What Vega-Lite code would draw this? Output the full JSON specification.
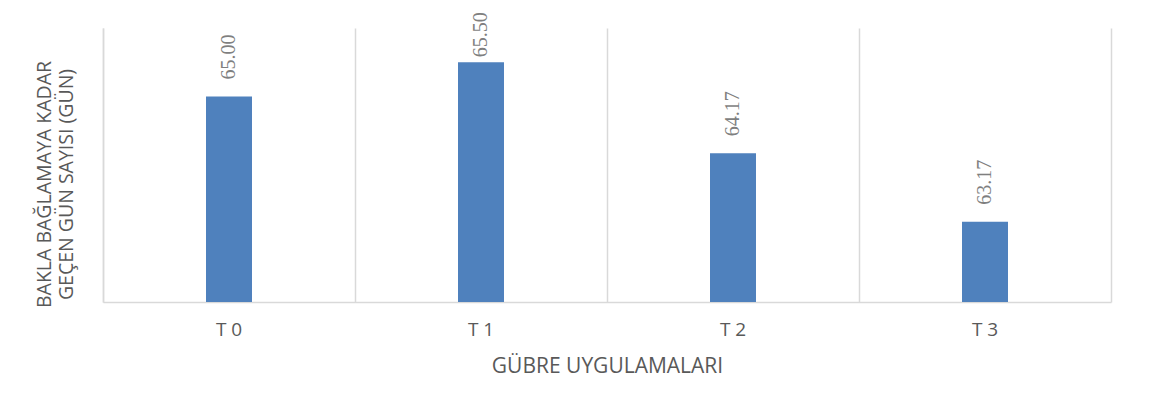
{
  "$schema": "https://vega.github.io/schema/vega-lite/v6.json",
  "width": 1008,
  "height": 274,
  "autosize": {"type": "none"},
  "padding": {"left": 103, "top": 28, "right": 39, "bottom": 114},
  "background": "white",
  "config": {
    "view": {"stroke": null},
    "font": "Open Sans"
  },
  "data": {
    "values": [
      {"trt": "T 0", "days": 65.00, "label": "65.00"},
      {"trt": "T 1", "days": 65.50, "label": "65.50"},
      {"trt": "T 2", "days": 64.17, "label": "64.17"},
      {"trt": "T 3", "days": 63.17, "label": "63.17"}
    ]
  },
  "encoding": {
    "x": {
      "field": "trt",
      "type": "nominal",
      "scale": {"paddingInner": 0, "paddingOuter": 0},
      "axis": {
        "title": "GÜBRE UYGULAMALARI",
        "labelAngle": 0,
        "labelFontSize": 19,
        "labelColor": "#595959",
        "labelPadding": 18,
        "ticks": false,
        "domainColor": "#d9d9d9",
        "domainWidth": 1.5,
        "grid": true,
        "gridColor": "#d9d9d9",
        "gridWidth": 1.5,
        "bandPosition": 0,
        "titleFontSize": 21,
        "titleFontWeight": "normal",
        "titleColor": "#595959",
        "titlePadding": 16
      }
    }
  },
  "layer": [
    {
      "mark": {"type": "bar", "color": "#4f81bd", "width": {"band": 0.1825}},
      "encoding": {
        "y": {
          "field": "days",
          "type": "quantitative",
          "stack": null,
          "scale": {"domain": [62, 66], "zero": false, "nice": false},
          "axis": {
            "title": ["BAKLA BAĞLAMAYA KADAR", "GEÇEN GÜN SAYISI (GÜN)"],
            "labels": false,
            "ticks": false,
            "grid": false,
            "domainColor": "#d9d9d9",
            "domainWidth": 1.5,
            "titleFontSize": 19.5,
            "titleFontWeight": "normal",
            "titleColor": "#595959",
            "titleLineHeight": 22,
            "titlePadding": 27,
            "titleY": 156
          }
        },
        "y2": {"datum": 62}
      }
    },
    {
      "transform": [{"filter": "datum.days < 65.4"}],
      "mark": {"type": "text", "angle": 270, "align": "left", "baseline": "middle", "dx": 17, "font": "Liberation Serif", "fontSize": 20, "color": "#7f7f7f"},
      "encoding": {
        "y": {"field": "days", "type": "quantitative", "axis": null},
        "text": {"field": "label"}
      }
    },
    {
      "transform": [{"filter": "datum.days >= 65.4"}],
      "mark": {"type": "text", "angle": 270, "align": "left", "baseline": "middle", "dx": 5, "font": "Liberation Serif", "fontSize": 20, "color": "#7f7f7f"},
      "encoding": {
        "y": {"field": "days", "type": "quantitative", "axis": null},
        "text": {"field": "label"}
      }
    },
    {
      "mark": {"type": "text", "opacity": 0},
      "encoding": {
        "y": {
          "field": "days",
          "type": "quantitative",
          "axis": {"orient": "right", "labels": false, "ticks": false, "grid": false, "title": null, "domainColor": "#d9d9d9", "domainWidth": 1.5}
        },
        "text": {"field": "label"}
      }
    }
  ],
  "resolve": {"axis": {"y": "independent"}}
}
